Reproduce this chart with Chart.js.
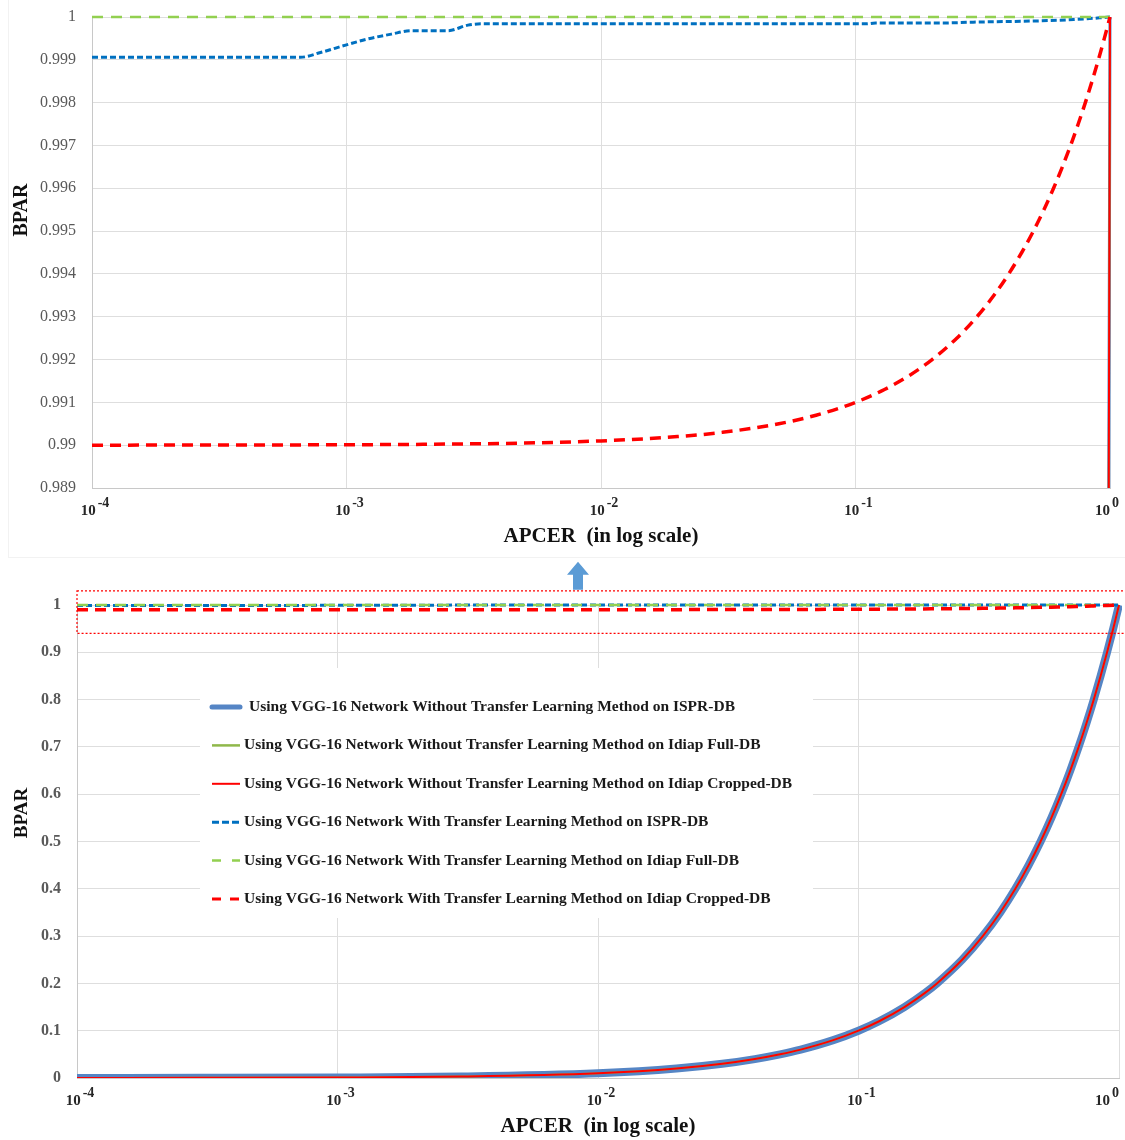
<!DOCTYPE html>
<html>
<head>
<meta charset="utf-8">
<title>BPAR vs APCER</title>
<script src="https://cdn.jsdelivr.net/npm/chart.js@4.4.1/dist/chart.umd.min.js"></script>
<style>
  body { margin: 0; background: #fff; }
  #page { position: relative; width: 1125px; height: 1140px; }
  .box { position: absolute; left: 0; width: 1125px; }
  #topBox { top: 0; height: 555px; }
  #bottomBox { top: 555px; height: 585px; }
  #frame { position: absolute; left: 8px; top: 0; width: 1117px; height: 557px;
           border-left: 1px solid #f2f2f2; border-bottom: 1px solid #f2f2f2; }
</style>
</head>
<body>
<div id="page">
  <div id="frame"></div>
  <div class="box" id="topBox"><canvas id="topChart"></canvas></div>
  <div class="box" id="bottomBox"><canvas id="bottomChart"></canvas></div>
</div>
<script>
// axis ticks
const xTicks = [0.0001, 0.001, 0.01, 0.1, 1];
const xTickBase = "10";
const xTickExp = ["-4", "-3", "-2", "-1", "0"];
const topYTicks = ["0.989", "0.99", "0.991", "0.992", "0.993", "0.994", "0.995", "0.996", "0.997", "0.998", "0.999", "1"];
const bottomYTicks = ["0", "0.1", "0.2", "0.3", "0.4", "0.5", "0.6", "0.7", "0.8", "0.9", "1"];

const seriesNames = [
  "Using VGG-16 Network Without Transfer Learning Method on ISPR-DB",
  "Using VGG-16 Network Without Transfer Learning Method on Idiap Full-DB",
  "Using VGG-16 Network Without Transfer Learning Method on Idiap Cropped-DB",
  "Using VGG-16 Network With Transfer Learning Method on ISPR-DB",
  "Using VGG-16 Network With Transfer Learning Method on Idiap Full-DB",
  "Using VGG-16 Network With Transfer Learning Method on Idiap Cropped-DB"
];

// without transfer learning (APCER -> BPAR), the three curves overlap
const noTlX = [0.0001, 0.0003, 0.001, 0.003, 0.01, 0.02, 0.03, 0.04, 0.05, 0.06, 0.08, 0.1, 0.12, 0.15, 0.18, 0.2, 0.25, 0.3, 0.35, 0.4, 0.45, 0.5, 0.55, 0.6, 0.65, 0.7, 0.75, 0.8, 0.85, 0.9, 0.95, 1];
const noTlIspr = [0.0001, 0.0003, 0.001, 0.003, 0.01, 0.02, 0.03, 0.04, 0.05, 0.06, 0.08, 0.1, 0.12, 0.15, 0.18, 0.2, 0.25, 0.3, 0.35, 0.4, 0.45, 0.5, 0.55, 0.6, 0.65, 0.7, 0.75, 0.8, 0.85, 0.9, 0.95, 1];
const noTlFull = [0.0001, 0.0003, 0.001, 0.003, 0.01, 0.02, 0.03, 0.04, 0.05, 0.06, 0.08, 0.1, 0.12, 0.15, 0.18, 0.2, 0.25, 0.3, 0.35, 0.4, 0.45, 0.5, 0.55, 0.6, 0.65, 0.7, 0.75, 0.8, 0.85, 0.9, 0.95, 1];
const noTlCropped = [0.0001, 0.0003, 0.001, 0.003, 0.01, 0.02, 0.03, 0.04, 0.05, 0.06, 0.08, 0.1, 0.12, 0.15, 0.18, 0.2, 0.25, 0.3, 0.35, 0.4, 0.45, 0.5, 0.55, 0.6, 0.65, 0.7, 0.75, 0.8, 0.85, 0.9, 0.95, 1];

// with transfer learning
const tlIsprX = [0.0001, 0.00066, 0.00079, 0.001, 0.0012, 0.0015, 0.0018, 0.0025, 0.003, 0.0034, 0.01, 0.05, 0.11, 0.12, 0.22, 0.29, 0.53, 0.72, 0.91, 1];
const tlIspr = [0.99906, 0.99906, 0.99917, 0.99935, 0.99948, 0.9996, 0.99968, 0.99968, 0.99981, 0.99984, 0.99984, 0.99984, 0.99984, 0.99986, 0.99986, 0.99988, 0.99991, 0.99994, 0.99998, 1];
const tlFullX = [0.0001, 1];
const tlFull = [1, 1];
const tlCroppedX = [0.0001, 0.001, 0.002, 0.005, 0.01, 0.02, 0.03, 0.05, 0.07, 0.1, 0.13, 0.16, 0.2, 0.25, 0.3, 0.35, 0.4, 0.45, 0.5, 0.55, 0.6, 0.65, 0.7, 0.75, 0.8, 0.85, 0.9, 0.95, 1];
const tlCropped = [0.99, 0.99001, 0.99002, 0.99005, 0.9901, 0.9902, 0.9903, 0.9905, 0.9907, 0.991, 0.9913, 0.9916, 0.992, 0.9925, 0.993, 0.9935, 0.994, 0.9945, 0.995, 0.9955, 0.996, 0.9965, 0.997, 0.9975, 0.998, 0.9985, 0.999, 0.9995, 1];

// BPAR band shown enlarged in the upper chart
const zoomBand = [0.94, 1.03];

const FONT = "'Liberation Serif', 'DejaVu Serif', serif";
Chart.defaults.font.family = FONT;

const colors = ["#5585c5", "#8fb84a", "#ff0000", "#0070c0", "#92d050", "#ff0000"];
const dashes = [[], [], [], [6, 3], [11, 8], [11, 7]];

function buildDatasets(big) {
  const series = [
    [noTlX, noTlIspr], [noTlX, noTlFull], [noTlX, noTlCropped],
    [tlIsprX, tlIspr], [tlFullX, tlFull], [tlCroppedX, tlCropped]
  ];
  const widths = big ? [8, 2, 2, 3, 2.5, 3.5] : [3, 2, 2, 3, 2.5, 3.5];
  return series.map(([xs, ys], i) => ({
    label: seriesNames[i],
    data: xs.map((x, j) => ({ x: x, y: ys[j] })),
    borderColor: colors[i],
    backgroundColor: colors[i],
    borderWidth: widths[i],
    borderDash: dashes[i],
    pointRadius: 0,
    cubicInterpolationMode: "monotone",
    order: 6 - i,
    clip: { left: 0, top: 3, right: 3, bottom: 0 }
  }));
}

// "10" with a raised exponent under each decade gridline
const xTickPlugin = {
  id: "xTickLabels",
  afterDraw(chart) {
    const ctx = chart.ctx;
    const xs = chart.scales.x;
    const baseY = chart.chartArea.bottom + 27;
    ctx.save();
    ctx.fillStyle = "#262626";
    ctx.textBaseline = "alphabetic";
    ctx.textAlign = "left";
    xTicks.forEach((v, i) => {
      ctx.font = "bold 15px " + FONT;
      const wb = ctx.measureText(xTickBase).width;
      ctx.font = "bold 14px " + FONT;
      const we = ctx.measureText(xTickExp[i]).width;
      const total = wb + 2 + we;
      let left = xs.getPixelForValue(v) - total / 2 + 3;
      left = Math.min(left, chart.width - 6 - total);
      ctx.font = "bold 15px " + FONT;
      ctx.fillText(xTickBase, left, baseY);
      ctx.font = "bold 14px " + FONT;
      ctx.fillText(xTickExp[i], left + wb + 2, baseY - 8);
    });
    ctx.restore();
  }
};

// rotated y title placed where the original has it
const yTitlePlugin = {
  id: "yTitle",
  afterDraw(chart, args, opts) {
    const ctx = chart.ctx;
    ctx.save();
    ctx.translate(opts.x, opts.y);
    ctx.rotate(-Math.PI / 2);
    ctx.font = "bold " + opts.size + "px " + FONT;
    ctx.fillStyle = "#111";
    ctx.textAlign = "center";
    ctx.textBaseline = "middle";
    ctx.fillText(opts.text, 0, 0);
    ctx.restore();
  }
};

// legend in a white box inside the lower plot
const legendBoxPlugin = {
  id: "legendBox",
  afterDraw(chart, args, opts) {
    if (!opts.show) return;
    const { ctx, chartArea } = chart;
    const left = chartArea.left + opts.left;
    const top = chartArea.top + opts.top;
    ctx.save();
    ctx.fillStyle = "#fff";
    ctx.fillRect(left, top, opts.width, opts.height);
    ctx.font = "bold 15.5px " + FONT;
    ctx.textBaseline = "middle";
    ctx.fillStyle = "#1a1a1a";
    chart.data.datasets.forEach((ds, i) => {
      const y = top + opts.firstRow + i * opts.rowGap;
      ctx.beginPath();
      ctx.setLineDash(opts.sampleDash[i]);
      ctx.lineWidth = opts.sampleWidth[i];
      ctx.strokeStyle = ds.borderColor;
      ctx.lineCap = i === 0 ? "round" : "butt";
      ctx.moveTo(left + 12, y);
      ctx.lineTo(left + 40, y);
      ctx.stroke();
      ctx.fillText(ds.label, left + (i === 0 ? 49 : 44), y);
    });
    ctx.restore();
  }
};

// dotted frame around the enlarged band + arrow up to the upper chart
const zoomMarkPlugin = {
  id: "zoomMark",
  afterDraw(chart, args, opts) {
    if (!opts.show) return;
    const { ctx, chartArea } = chart;
    const y = chart.scales.y;
    const top = y.getPixelForValue(zoomBand[1]);
    const bottom = y.getPixelForValue(zoomBand[0]);
    ctx.save();
    ctx.strokeStyle = "#ff0000";
    ctx.lineWidth = 1.2;
    ctx.setLineDash([2, 2]);
    ctx.strokeRect(chartArea.left, top, chart.width - chartArea.left + 2, bottom - top);
    ctx.setLineDash([]);
    const ax = opts.arrowX;
    ctx.fillStyle = "#5b9bd5";
    ctx.beginPath();
    ctx.moveTo(ax, top - 29);
    ctx.lineTo(ax + 11, top - 16);
    ctx.lineTo(ax + 5, top - 16);
    ctx.lineTo(ax + 5, top - 1);
    ctx.lineTo(ax - 5, top - 1);
    ctx.lineTo(ax - 5, top - 16);
    ctx.lineTo(ax - 11, top - 16);
    ctx.closePath();
    ctx.fill();
    ctx.restore();
  }
};

function makeChart(id, cfg) {
  return new Chart(document.getElementById(id), {
    type: "line",
    data: { datasets: buildDatasets(cfg.big) },
    plugins: [xTickPlugin, yTitlePlugin, legendBoxPlugin, zoomMarkPlugin],
    options: {
      responsive: true,
      maintainAspectRatio: false,
      animation: false,
      layout: { padding: cfg.padding },
      plugins: {
        legend: { display: false },
        tooltip: { enabled: false },
        yTitle: cfg.yTitle,
        legendBox: { show: cfg.big, left: 123, top: 63, width: 613, height: 250, firstRow: 39, rowGap: 38.4,
                     sampleWidth: [5, 2.5, 2, 3, 2.5, 3], sampleDash: [[], [], [], [7, 3], [9, 11], [9, 9]] },
        zoomMark: { show: cfg.big, arrowX: 578 }
      },
      scales: {
        x: {
          type: "logarithmic",
          min: 0.0001,
          max: 1,
          afterBuildTicks: s => { s.ticks = xTicks.map(v => ({ value: v })); },
          afterFit: s => { s.height = cfg.xHeight; s.paddingLeft = 0; s.paddingRight = 0; },
          grid: { color: "#dedede", drawTicks: false },
          border: { color: "#c8c8c8" },
          ticks: { display: false },
          title: {
            display: true,
            text: "APCER  (in log scale)",
            color: "#111",
            font: { size: 21, weight: "bold" },
            padding: { top: 0, bottom: cfg.titlePad }
          }
        },
        y: {
          min: cfg.yTicks.length > 11 ? 0.989 : 0,
          max: 1,
          afterBuildTicks: s => { s.ticks = cfg.yTicks.map(t => ({ value: Number(t) })); },
          afterFit: s => { s.width = cfg.yWidth; s.paddingTop = 0; s.paddingBottom = 0; },
          grid: { color: "#dedede", drawTicks: false },
          border: { color: "#c8c8c8" },
          ticks: {
            padding: 16,
            color: "#595959",
            font: { size: 16, weight: cfg.big ? "bold" : "normal" },
            callback: (v, i) => cfg.yTicks[i]
          }
        }
      }
    }
  });
}

makeChart("topChart", {
  big: false,
  yTicks: topYTicks,
  padding: { left: 0, right: 15, top: 17, bottom: 0 },
  yWidth: 92,
  xHeight: 67,
  titlePad: 6,
  yTitle: { text: "BPAR", x: 22, y: 210, size: 20 }
});

makeChart("bottomChart", {
  big: true,
  yTicks: bottomYTicks,
  padding: { left: 0, right: 6, top: 50, bottom: 0 },
  yWidth: 77,
  xHeight: 62,
  titlePad: 1,
  yTitle: { text: "BPAR", x: 22, y: 258, size: 19 }
});
</script>
</body>
</html>
